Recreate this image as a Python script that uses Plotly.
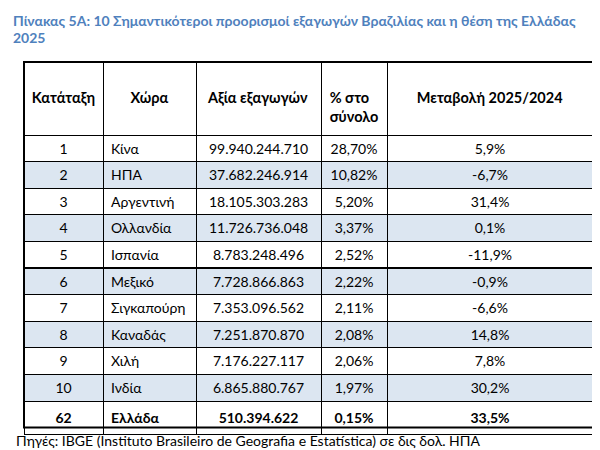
import plotly.graph_objects as go

ranks = ["1", "2", "3", "4", "5", "6", "7", "8", "9", "10", "62"]
countries = ["Κίνα", "ΗΠΑ", "Αργεντινή", "Ολλανδία", "Ισπανία", "Μεξικό",
             "Σιγκαπούρη", "Καναδάς", "Χιλή", "Ινδία", "Ελλάδα"]
export_values = [99940244710, 37682246914, 18105303283, 11726736048, 8783248496,
                 7728866863, 7353096562, 7251870870, 7176227117, 6865880767,
                 510394622]
share_pct = [28.70, 10.82, 5.20, 3.37, 2.52, 2.22, 2.11, 2.08, 2.06, 1.97, 0.15]
change_pct = [5.9, -6.7, 31.4, 0.1, -11.9, -0.9, -6.6, 14.8, 7.8, 30.2, 33.5]

headers = ["Κατάταξη", "Χώρα", "Αξία εξαγωγών", "% στο<br>σύνολο", "Μεταβολή 2025/2024"]
title_lines = ["Πίνακας 5A: 10 Σημαντικότεροι προορισμοί εξαγωγών Βραζιλίας και η θέση της Ελλάδας",
               "2025"]
source_text = "Πηγές: IBGE (Instituto Brasileiro de Geografia e Estatística) σε δις δολ. ΗΠΑ"

FONT = "Lato"
BLUE_ROW = "#dce6f1"
TITLE_BLUE = "#4f81bd"


def fmt_int(v):
    return f"{v:,}".replace(",", ".")


def fmt_dec(v, nd):
    return f"{v:.{nd}f}".replace(".", ",") + "%"


col_rank = list(ranks)
col_country = list(countries)
col_value = [fmt_int(v) for v in export_values]
col_share = [fmt_dec(v, 2) for v in share_pct]
col_change = [fmt_dec(v, 1) for v in change_pct]

columns = [col_rank, col_country, col_value, col_share, col_change]
# last row (Greece) in bold
for col in columns:
    col[-1] = f"<b>{col[-1]}</b>"

# header text padded with a blank first line so it sits lower in the tall header
header_text = ["<b>\u00a0<br>" + h + "</b>" for h in headers]

row_colors = ["white" if i % 2 == 0 else BLUE_ROW for i in range(len(ranks) - 1)] + ["white"]

# table frame, in pixels of the 600x450 figure
header_h = 73
row_h = 26.6
top_px = 54
bottom_px = top_px + header_h + row_h * len(ranks)
tx0, tx1 = 16 / 600, 585 / 600

fig = go.Figure()

fig.add_trace(
    go.Table(
        domain=dict(x=[tx0, tx1], y=[0.0, 1 - top_px / 450]),
        columnwidth=[79, 93, 125, 66, 206],
        header=dict(
            values=header_text,
            align="center",
            height=header_h,
            line=dict(color="black", width=1),
            fill_color="white",
            font=dict(family=FONT, size=14.5, color="black"),
        ),
        cells=dict(
            values=columns,
            align=["center", "left", "center", "center", "center"],
            height=row_h,
            line=dict(color="black", width=1),
            fill_color=[row_colors],
            font=dict(family=FONT, size=14, color="black"),
        ),
    )
)

# thicker outer border round the table
fig.add_shape(
    type="rect", xref="paper", yref="paper",
    x0=tx0, x1=tx1, y0=1 - bottom_px / 450, y1=1 - top_px / 450,
    line=dict(color="black", width=2),
)

# title, two lines kept tight like the original
for i, line in enumerate(title_lines):
    fig.add_annotation(
        x=3 / 600, y=1 - (13 + 17 * i) / 450, xref="paper", yref="paper",
        xanchor="left", yanchor="middle", align="left", showarrow=False,
        text=f"<b>{line}</b>",
        font=dict(family=FONT, size=14, color=TITLE_BLUE),
    )

fig.add_annotation(
    x=6 / 600, y=1 - 432 / 450, xref="paper", yref="paper",
    xanchor="left", yanchor="middle", align="left", showarrow=False,
    text=source_text,
    font=dict(family=FONT, size=14, color="black"),
)

fig.update_layout(
    width=600,
    height=450,
    margin=dict(l=0, r=0, t=0, b=0),
    paper_bgcolor="white",
)

fig.write_html("out.html")
